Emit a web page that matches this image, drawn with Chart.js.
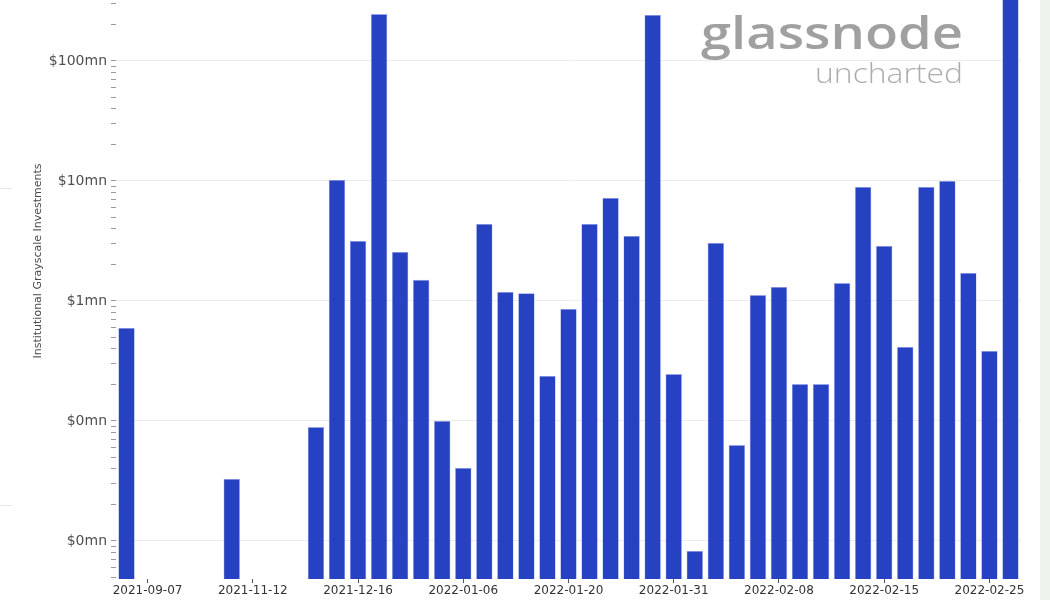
<!DOCTYPE html>
<html>
<head>
<meta charset="utf-8">
<script src="https://cdn.jsdelivr.net/npm/chart.js@4.4.1/dist/chart.umd.min.js"></script>
<style>
  html, body { margin: 0; padding: 0; background: #ffffff; }
  #wrap { width: 1050px; height: 600px; position: relative; }
</style>
</head>
<body>
<div id="wrap"><canvas id="c" width="1050" height="600"></canvas></div>
<script>
// ---- data ----
const categories = [
  '2021-08-31','2021-09-07','2021-09-20','2021-10-05','2021-10-19','2021-11-02','2021-11-12','2021-11-22','2021-12-01','2021-12-10',
  '2021-12-13','2021-12-16','2021-12-17','2021-12-20','2021-12-22','2021-12-29','2022-01-06','2022-01-07','2022-01-10','2022-01-12',
  '2022-01-14','2022-01-20','2022-01-21','2022-01-24','2022-01-25','2022-01-27','2022-01-31','2022-02-01','2022-02-02','2022-02-03',
  '2022-02-04','2022-02-08','2022-02-09','2022-02-10','2022-02-11','2022-02-14','2022-02-15','2022-02-16','2022-02-17','2022-02-18',
  '2022-02-22','2022-02-25','2022-02-28'
];
const investments = [
  596000, null, null, null, null, 32900, null, null, null, 89000,
  10200000, 3160000, 246000000, 2560000, 1500000, 100000, 40600, 4380000, 1190000, 1160000,
  237000, 858000, 4380000, 7220000, 3480000, 242000000, 246000, 8250, 3040000, 63000,
  1120000, 1310000, 203000, 203000, 1410000, 8900000, 2870000, 414000, 8900000, 10000000,
  1710000, 383000, 500000000
];
const xTickLabels = ['2021-09-07','2021-11-12','2021-12-16','2022-01-06','2022-01-20','2022-01-31','2022-02-08','2022-02-15','2022-02-25'];
const yMajorTicks = [1e4, 1e5, 1e6, 1e7, 1e8];
const yMin = 4820, yMax = 322000000;
const yTitle = 'Institutional Grayscale Investments';
const watermark = ['glassnode', 'uncharted'];

const decorations = {
  id: 'decorations',
  beforeDraw(chart) {
    const ctx = chart.ctx;
    ctx.save();
    ctx.fillStyle = '#ffffff';
    ctx.fillRect(0, 0, chart.width, chart.height);
    ctx.fillStyle = '#eef2ec';
    ctx.fillRect(1040, 0, 10, chart.height);
    ctx.strokeStyle = '#e3e6e3';
    ctx.lineWidth = 1;
    ctx.beginPath();
    ctx.moveTo(0, 188.5); ctx.lineTo(12, 188.5);
    ctx.moveTo(0, 505.5); ctx.lineTo(12, 505.5);
    ctx.stroke();
    ctx.restore();
  },
  afterDatasetsDraw(chart) {
    const ctx = chart.ctx;
    ctx.save();
    ctx.translate(38, 261);
    ctx.rotate(-Math.PI / 2);
    ctx.fillStyle = '#4a4a4a';
    ctx.font = '11px "DejaVu Sans"';
    ctx.textAlign = 'center';
    ctx.textBaseline = 'middle';
    ctx.fillText(yTitle, 0, 0);
    ctx.restore();
  },
  afterDraw(chart) {
    const ctx = chart.ctx;
    ctx.save();
    ctx.fillStyle = '#a0a0a0';
    ctx.font = '600 46px "Open Sans"';
    ctx.textBaseline = 'alphabetic';
    let w = ctx.measureText(watermark[0]).width;
    ctx.translate(701, 49);
    ctx.scale(262 / w, 1);
    ctx.fillText(watermark[0], 0, 0);
    ctx.restore();
    ctx.save();
    ctx.fillStyle = '#adadad';
    ctx.font = '300 28px "Open Sans"';
    w = ctx.measureText(watermark[1]).width;
    ctx.translate(815, 83);
    ctx.scale(148 / w, 1);
    ctx.fillText(watermark[1], 0, 0);
    ctx.restore();
  }
};

new Chart(document.getElementById('c'), {
  type: 'bar',
  data: {
    labels: categories,
    datasets: [{
      data: investments,
      backgroundColor: '#2641c2',
      borderColor: 'rgba(160,170,240,0.9)',
      borderWidth: 0.6,
      barPercentage: 0.78,
      categoryPercentage: 1.0
    }]
  },
  options: {
    responsive: false,
    animation: false,
    layout: { padding: { left: 0, right: 29, top: 0, bottom: 0 } },
    plugins: { legend: { display: false }, tooltip: { enabled: false } },
    scales: {
      x: {
        type: 'category',
        offset: true,
        afterBuildTicks(scale) {
          scale.ticks = scale.ticks.filter(t => xTickLabels.includes(categories[t.value]));
        },
        afterFit(scale) { scale.height = 21; scale.paddingLeft = 0; scale.paddingRight = 0; },
        grid: { offset: false, drawOnChartArea: false, drawTicks: true, tickLength: 4, color: '#555555', tickWidth: 1 },
        border: { display: false },
        ticks: {
          autoSkip: false, maxRotation: 0, minRotation: 0, padding: 1,
          color: '#333333', font: { family: 'DejaVu Sans', size: 12 }
        }
      },
      y: {
        type: 'logarithmic',
        min: yMin,
        max: yMax,
        afterBuildTicks(scale) {
          const t = [];
          for (let e = 3; e <= 9; e++) {
            for (let m = 1; m <= 9; m++) {
              const v = m * Math.pow(10, e);
              if (v >= yMin && v <= yMax) t.push({ value: v, major: m === 1 });
            }
          }
          scale.ticks = t;
        },
        afterFit(scale) { scale.width = 116; scale.paddingTop = 0; scale.paddingBottom = 0; },
        border: { display: false },
        grid: {
          drawTicks: true,
          tickLength: 5,
          tickColor: '#9a9a9a',
          color: (ctx) => (ctx.tick && yMajorTicks.includes(ctx.tick.value)) ? '#ebebeb' : 'rgba(0,0,0,0)',
          lineWidth: 1
        },
        ticks: {
          autoSkip: false,
          padding: 4,
          color: '#505050',
          font: { family: 'DejaVu Sans', size: 14 },
          callback: (v) => yMajorTicks.includes(v) ? '$' + Math.round(v / 1e6) + 'mn' : ''
        }
      }
    }
  },
  plugins: [decorations]
});
</script>
</body>
</html>
